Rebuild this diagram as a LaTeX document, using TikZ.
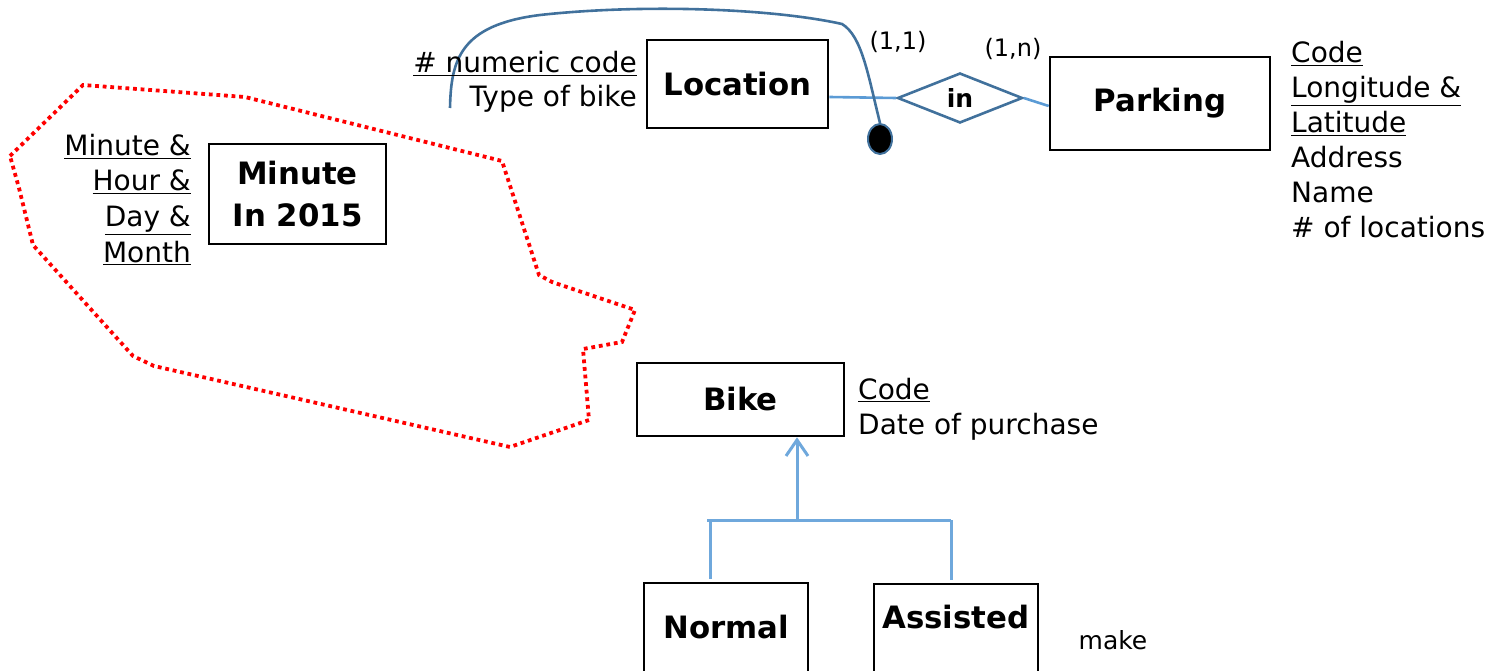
\documentclass[tikz,border=0pt]{standalone}
\usepackage{fontspec}
\setmainfont{DejaVu Sans}
\usetikzlibrary{shapes.geometric,arrows.meta}
\definecolor{linkblue}{HTML}{5B9BD5}
\definecolor{darkblue}{HTML}{41719C}
\definecolor{isablue}{HTML}{6FA8DC}
\newcommand{\entfont}{\fontsize{30.8}{42}\bfseries\selectfont}
\newcommand{\attfont}{\fontsize{28}{35}\selectfont}
\newcommand{\cardfont}{\fontsize{24}{28}\selectfont}
\begin{document}
\begin{tikzpicture}[x=1pt,y=-1pt,
  entity/.style={draw, line width=2.6pt, inner sep=0pt, font=\entfont},
  attr/.style={font=\attfont, inner sep=0pt},
  card/.style={font=\cardfont, inner sep=0pt},
  link/.style={linkblue, line width=2.6pt},
  isa/.style={isablue, line width=3pt},
  fence/.style={red, line width=3.8pt, dash pattern=on 3.8pt off 3.8pt}]
\path[use as bounding box] (0,0) rectangle (1489,671);
\clip (0,0) rectangle (1489,671);

% entities
\node[entity, minimum width=181pt, minimum height=88pt] (location) at (737.5,84) {Location};
\node[entity, minimum width=220pt, minimum height=93pt] (parking) at (1160,103.5) {Parking};
\node[entity, minimum width=177pt, minimum height=100pt, align=center] (minute) at (297.5,194) {Minute\\In 2015};
\node[entity, minimum width=207pt, minimum height=73pt] (bike) at (740.5,399.5) {Bike};
\node[entity, minimum width=164pt, minimum height=120pt] (normal) at (726,643) {};
\node[font=\entfont, inner sep=0pt] (normaltxt) at (726,627) {Normal};
\node[entity, minimum width=164pt, minimum height=120pt] (assisted) at (956,644) {};
\node[font=\entfont, inner sep=0pt] (assistedtxt) at (956,617) {Assisted};

% relationship
\node[draw=darkblue, line width=2.6pt, diamond, aspect=2.5, minimum width=125pt, minimum height=50pt, inner sep=0pt,
  font=\fontsize{25}{28}\bfseries\selectfont] (in) at (960,98) {in};
\draw[link] ([yshift=-13pt]location.east) -- (in.west);
\draw[link] (in.east) -- ([yshift=-2.5pt]parking.west);
\node[card] (c11) at (898,42) {(1,1)};
\node[card] (c1n) at (1013,49) {(1,n)};

% identifier of Location: numeric code together with Parking
\node[ellipse, draw=darkblue, fill=black, line width=2pt, minimum width=24pt, minimum height=30pt, inner sep=0pt] (dot) at (880,139) {};
\coordinate (idstart) at (450,108);
\draw[darkblue, line width=2.6pt] (idstart) .. controls (451,60) and (460,25) .. (540,15)
  .. controls (640,4) and (770,8) .. (842,24)
  .. controls (862,36) and (868,75) .. (dot.north);

% attributes
\node[attr, anchor=base east] (anum) at (637,73) {\underline{\# numeric code}};
\node[attr, anchor=base east] (atype) at (637,107) {Type of bike};

\node[attr, anchor=base west] (pcode) at (1291,63) {\underline{Code}};
\node[attr, anchor=base west] (plong) at (1291,98) {\underline{Longitude \&}};
\node[attr, anchor=base west] (plat) at (1291,133) {\underline{Latitude}};
\node[attr, anchor=base west] (paddr) at (1291,168) {Address};
\node[attr, anchor=base west] (pname) at (1291,203) {Name};
\node[attr, anchor=base west] (pnum) at (1291,238) {\# of locations};

\node[attr, anchor=base east] (mmin) at (191,156) {\underline{Minute \&}};
\node[attr, anchor=base east] (mhour) at (191,191) {\underline{Hour \&}};
\node[attr, anchor=base east] (mday) at (191,227) {\underline{Day \&}};
\node[attr, anchor=base east] (mmonth) at (191,262) {\underline{Month}};

\node[attr, anchor=base west] (bcode) at (858,399) {\underline{Code}};
\node[attr, anchor=base west] (bdate) at (858,434) {Date of purchase};

\node[font=\fontsize{25}{28}\selectfont, inner sep=0pt] (make) at (1113,640) {make};

% generalization
\coordinate (isajoin) at (797,520);
\coordinate (isaL) at (710,520);
\coordinate (isaR) at (951,520);
\draw[isa, -{Straight Barb[length=16pt, width=22pt]}] (isajoin) -- (bike.south -| isajoin);
\draw[isa] ([xshift=-3pt]isaL) -- (isaR);
\draw[isa] (isaL) -- ([yshift=3pt]normal.north -| isaL);
\draw[isa] (isaR) -- ([yshift=3pt]assisted.north -| isaR);

% grouping fence around the time entity
\draw[fence] (10,156) -- (83,85) -- (245,97) -- (502,161) -- (539,275) -- (552,282) -- (635,310)
  -- (622,342) -- (583,349) -- (589,420) -- (510,447) -- (154,366) -- (133,356)
  -- (33,245) -- (19,188) -- cycle;
\end{tikzpicture}
\end{document}
